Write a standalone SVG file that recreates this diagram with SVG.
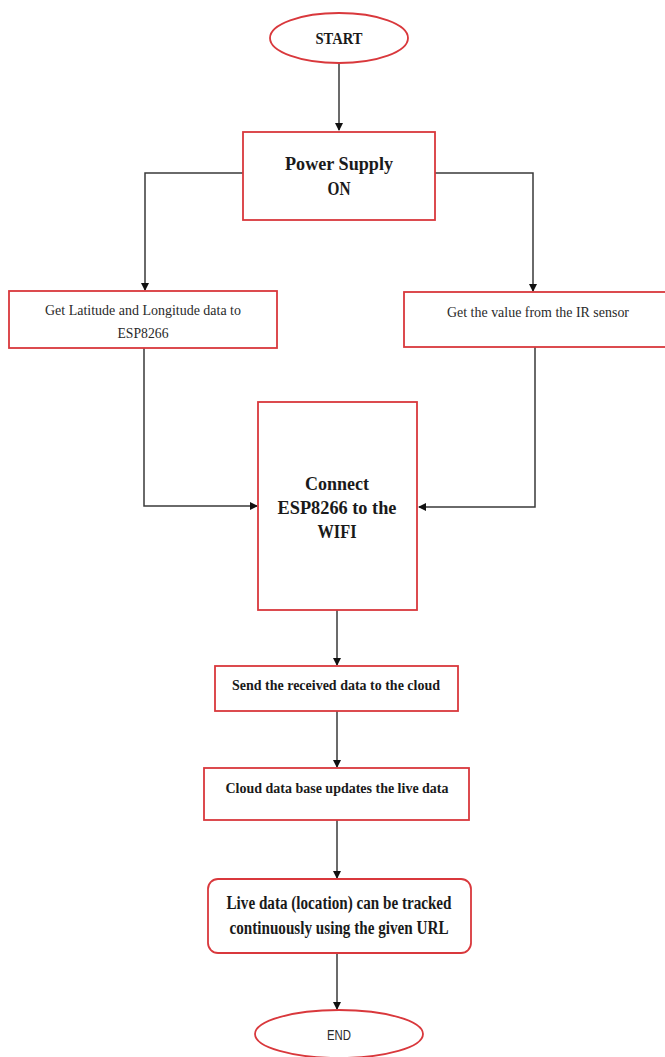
<svg xmlns="http://www.w3.org/2000/svg" width="665" height="1057" viewBox="0 0 665 1057">
<defs>
<style>
.box{fill:#fff;stroke:#d9383c;stroke-width:1.8}
.c{fill:none;stroke:#3a3a3a;stroke-width:1.5}
.b{font-family:"Liberation Serif",serif;font-weight:bold;fill:#1a1a1a;text-anchor:middle}
.r{font-family:"Liberation Serif",serif;fill:#2a2a2a;text-anchor:middle}
.s{font-family:"Liberation Sans",sans-serif;fill:#2a2a2a;text-anchor:middle}
</style>
<marker id="ah" markerWidth="8" markerHeight="8" refX="7" refY="4" orient="auto" markerUnits="userSpaceOnUse">
<path d="M0,0 L8,4 L0,8 Z" fill="#111"/>
</marker>
</defs>
<rect width="665" height="1057" fill="#fff"/>
<g id="connectors">
<path class="c" d="M339,63 V130" marker-end="url(#ah)"/>
<path class="c" d="M243,173 H145 V290" marker-end="url(#ah)"/>
<path class="c" d="M435,173 H533 V291" marker-end="url(#ah)"/>
<path class="c" d="M144,348 V506 H257" marker-end="url(#ah)"/>
<path class="c" d="M535,347 V507 H419" marker-end="url(#ah)"/>
<path class="c" d="M337,610 V665" marker-end="url(#ah)"/>
<path class="c" d="M337,711 V767" marker-end="url(#ah)"/>
<path class="c" d="M337,820 V878" marker-end="url(#ah)"/>
<path class="c" d="M337,953 V1009" marker-end="url(#ah)"/>
</g>
<g id="start">
<ellipse class="box" cx="339" cy="38" rx="69" ry="25"/>
<text class="b" x="339" y="44" font-size="17" textLength="47" lengthAdjust="spacingAndGlyphs">START</text>
</g>
<g id="power">
<rect class="box" x="243" y="132" width="192" height="88"/>
<text class="b" x="339" y="170" font-size="19" textLength="108" lengthAdjust="spacingAndGlyphs">Power Supply</text>
<text class="b" x="339" y="195" font-size="19" textLength="23" lengthAdjust="spacingAndGlyphs">ON</text>
</g>
<g id="latlon">
<rect class="box" x="9" y="291" width="268" height="57"/>
<text class="r" x="143" y="315" font-size="15" textLength="196" lengthAdjust="spacingAndGlyphs">Get Latitude and Longitude data to</text>
<text class="r" x="143" y="338" font-size="15" textLength="51" lengthAdjust="spacingAndGlyphs">ESP8266</text>
</g>
<g id="ir">
<rect class="box" x="404" y="292" width="270" height="55"/>
<text class="r" x="538" y="317" font-size="15" textLength="182" lengthAdjust="spacingAndGlyphs">Get the value from the IR sensor</text>
</g>
<g id="wifi">
<rect class="box" x="258" y="402" width="159" height="208"/>
<text class="b" x="337" y="490" font-size="19" textLength="64" lengthAdjust="spacingAndGlyphs">Connect</text>
<text class="b" x="337" y="514" font-size="19" textLength="119" lengthAdjust="spacingAndGlyphs">ESP8266 to the</text>
<text class="b" x="337" y="538" font-size="19" textLength="39" lengthAdjust="spacingAndGlyphs">WIFI</text>
</g>
<g id="send">
<rect class="box" x="215" y="666" width="243" height="45"/>
<text class="b" x="336" y="690" font-size="15" textLength="208" lengthAdjust="spacingAndGlyphs">Send the received data to the cloud</text>
</g>
<g id="cloud">
<rect class="box" x="204" y="768" width="265" height="52"/>
<text class="b" x="337" y="793" font-size="15" textLength="223" lengthAdjust="spacingAndGlyphs">Cloud data base updates the live data</text>
</g>
<g id="live">
<rect class="box" x="208" y="879" width="263" height="74" rx="10"/>
<text class="b" x="339" y="909" font-size="18" textLength="225" lengthAdjust="spacingAndGlyphs">Live data (location) can be tracked</text>
<text class="b" x="339" y="934" font-size="18" textLength="219" lengthAdjust="spacingAndGlyphs">continuously using the given URL</text>
</g>
<g id="end">
<ellipse class="box" cx="339" cy="1034" rx="84" ry="24"/>
<text class="s" x="339" y="1040" font-size="14" textLength="24" lengthAdjust="spacingAndGlyphs">END</text>
</g>
</svg>
